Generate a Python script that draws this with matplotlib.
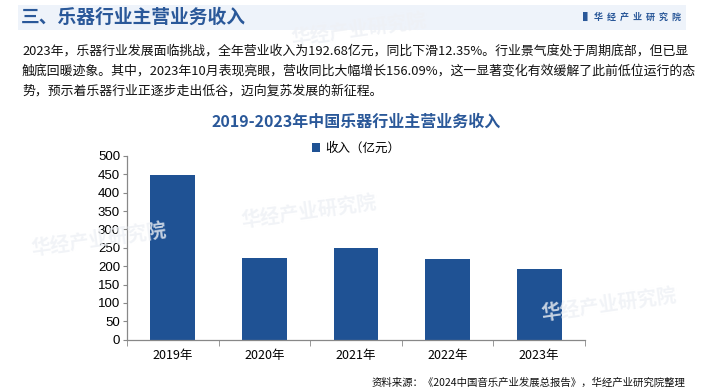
import matplotlib
matplotlib.use("Agg")
import matplotlib.pyplot as plt
from matplotlib.patches import Rectangle
import numpy as np

plt.rcParams['font.family'] = ['Noto Sans CJK SC', 'DejaVu Sans']

years = ["2019年", "2020年", "2021年", "2022年", "2023年"]
revenue = [448, 222, 250, 220, 192.68]
yticks = [0, 50, 100, 150, 200, 250, 300, 350, 400, 450, 500]

header = "三、乐器行业主营业务收入"
brand = "华经产业研究院"
para = ["2023年，乐器行业发展面临挑战，全年营业收入为192.68亿元，同比下滑12.35%。行业景气度处于周期底部，但已显",
        "触底回暖迹象。其中，2023年10月表现亮眼，营收同比大幅增长156.09%，这一显著变化有效缓解了此前低位运行的态",
        "势，预示着乐器行业正逐步走出低谷，迈向复苏发展的新征程。"]
chart_title = "2019-2023年中国乐器行业主营业务收入"
legend_label = "收入（亿元）"
source = "资料来源：《2024中国音乐产业发展总报告》，华经产业研究院整理"

W, H = 704, 392
fig = plt.figure(figsize=(W/100, H/100), dpi=100)
fig.patch.set_facecolor("white")

bar_color = "#1F5294"
title_color = "#2A5899"

# header band
fig.add_artist(Rectangle((18/W, 1-30/H), (686-18)/W, 25/H, transform=fig.transFigure,
                         facecolor="#EEF3FA", edgecolor="none", zorder=0))
fig.text(21/W, 1-17.5/H, header, fontsize=13.5, fontweight="bold", color=title_color,
         va="center", ha="left")
fig.text(681/W, 1-17.5/H, "▌ " + "  ".join(brand), fontsize=6.5, fontweight="bold",
         color=title_color, va="center", ha="right")

# watermarks
for (x, y) in [(240, 212), (540, 305), (30, 240), (290, 30)]:
    fig.text(x/W, 1-y/H, brand, fontsize=14, fontweight="bold", color="#EEF1F5",
             alpha=0.8, rotation=8, ha="left", va="center", zorder=0.5)

# paragraph
for i, line in enumerate(para):
    fig.text(22/W, 1-(51 + i*20)/H, line, fontsize=9.3, color="#111111",
             va="center", ha="left")

fig.text(356/W, 1-122/H, chart_title, fontsize=11.5, fontweight="bold", color=title_color,
         ha="center", va="center")

ax = fig.add_axes([127/W, 1-339.7/H, (585-127)/W, (339.7-156)/H])
ax.set_facecolor("none")
x = np.arange(len(years))
ax.bar(x, revenue, width=0.49, color=bar_color, label=legend_label, zorder=2)
ax.set_xlim(-0.5, len(years)-0.5)
ax.set_ylim(0, 500)
ax.set_yticks(yticks)
ax.set_yticklabels([str(v) for v in yticks], fontsize=9.5, family=['Liberation Sans', 'DejaVu Sans'])
ax.set_xticks(x)
ax.set_xticklabels(years, fontsize=9)
ax.tick_params(axis='x', length=0, pad=7)
ax.set_xticks(np.arange(-0.5, len(years)), minor=True)
ax.tick_params(axis='x', which='minor', length=4, color="#888888", direction='out')
ax.tick_params(axis='y', length=3, color="#888888", direction='out', pad=2)
for s in ["top", "right"]:
    ax.spines[s].set_visible(False)
for s in ["left", "bottom"]:
    ax.spines[s].set_color("#888888")
    ax.spines[s].set_linewidth(0.9)

leg = fig.legend(handles=ax.patches[:1], labels=[legend_label], loc="center",
                 bbox_to_anchor=(356/W, 1-148/H), frameon=False, fontsize=9,
                 handlelength=0.7, handleheight=0.7, handletextpad=0.4)

fig.text(685/W, 1-383/H, source, fontsize=7.5, color="#111111", ha="right", va="center")

fig.savefig("out.png", dpi=100)
